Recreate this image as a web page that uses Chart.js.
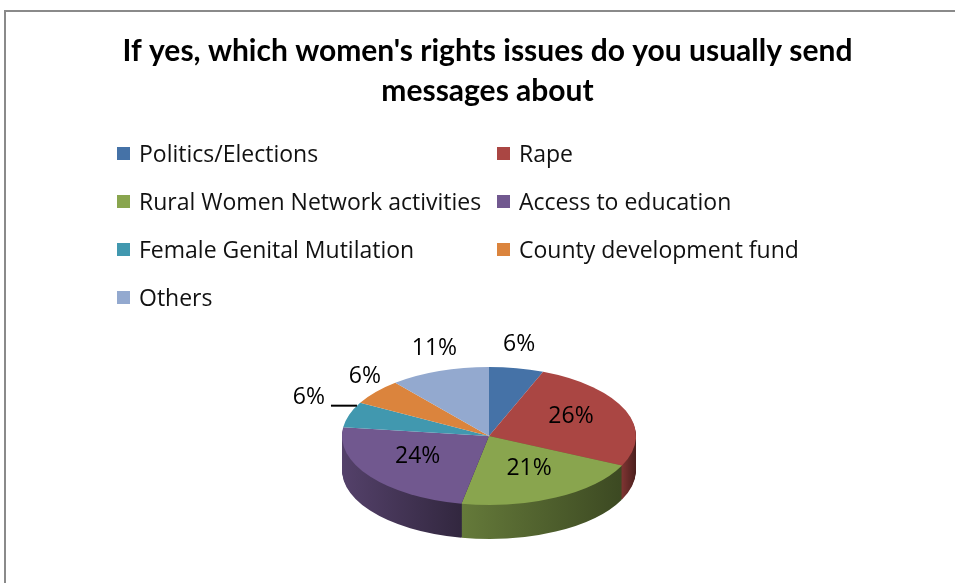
<!DOCTYPE html>
<html>
<head>
<meta charset="utf-8">
<title>Women's rights issues</title>
<script src="https://cdn.jsdelivr.net/npm/chart.js@4"></script>
<style>
  html, body { margin: 0; padding: 0; background: #fff; }
  #wrap { position: relative; width: 955px; height: 583px; overflow: hidden; background: #fff; }
  #frame { position: absolute; left: 4px; top: 10px; right: -10px; bottom: -10px;
           border-left: 2px solid #8a8a8a; border-top: 2px solid #8a8a8a; }
  #chart { position: absolute; left: 0; top: 0; }
  #legend { position: absolute; left: 0; top: 0; width: 955px; height: 583px;
            font-family: 'Open Sans', Lato, sans-serif; font-size: 23px; color: #111; pointer-events: none; }
  .item { position: absolute; display: flex; align-items: center; height: 28px; white-space: nowrap; }
  .box { width: 13px; height: 13px; margin-right: 9px; flex: none; }
</style>
</head>
<body>
<div id="wrap">
  <div id="frame"></div>
  <canvas id="chart" width="955" height="583"></canvas>
  <div id="legend"></div>
</div>
<script>
// ---- data ----
const categories = [
  'Politics/Elections',
  'Rape',
  'Rural Women Network activities',
  'Access to education',
  'Female Genital Mutilation',
  'County development fund',
  'Others'
];
const shares = [6, 26, 21, 24, 6, 6, 11];
const sliceColors = ['#4572A7', '#AA4643', '#89A54E', '#71588F', '#4198AF', '#DB843D', '#93A9CF'];
const titleLines = ["If yes, which women's rights issues do you usually send", 'messages about'];

// ---- look of the tilted pie ----
const PIE = { cx: 489, cy: 436, radius: 147, squash: 69 / 147, depth: 34 };
const LABEL_FONT = '23px "Open Sans", Lato, sans-serif';
const LEADER_SLICES = [4];   // slices whose label sits away from the pie on a leader line

function shade(hex, f) {
  const n = parseInt(hex.slice(1), 16);
  const r = Math.round(((n >> 16) & 255) * f);
  const g = Math.round(((n >> 8) & 255) * f);
  const b = Math.round((n & 255) * f);
  return `rgb(${r},${g},${b})`;
}

// maps the library's flat circle onto a tilted ellipse, dy pushes it down for the wall
function tilt(ctx, arc, dy) {
  ctx.translate(PIE.cx - arc.x, PIE.cy + dy);
  ctx.scale(1, PIE.squash);
  ctx.translate(0, -arc.y);
}

// horizontal span of the front (visible) wall of a slice, in the arc's own x space
function frontSpan(arc) {
  let lo = Infinity, hi = -Infinity;
  const steps = 60;
  for (let i = 0; i <= steps; i++) {
    const a = arc.startAngle + (arc.endAngle - arc.startAngle) * i / steps;
    if (Math.sin(a) >= 0) {
      const x = arc.x + arc.outerRadius * Math.cos(a);
      lo = Math.min(lo, x); hi = Math.max(hi, x);
    }
  }
  return lo <= hi ? [lo, hi] : null;
}

const pie3d = {
  id: 'pie3d',
  beforeDatasetsDraw(chart) {
    const ctx = chart.ctx;
    const arcs = chart.getDatasetMeta(0).data;
    if (!arcs.length) return;
    // side wall: the same arcs drawn again, stepped downward and shaded
    const walls = arcs.map((arc, i) => {
      const span = frontSpan(arc);
      if (!span) return null;
      const g = ctx.createLinearGradient(span[0], 0, Math.max(span[1], span[0] + 1), 0);
      const base = sliceColors[i];
      g.addColorStop(0, shade(base, 0.74));
      g.addColorStop(1, shade(base, 0.44));
      const wall = Object.create(arc);
      wall.options = Object.assign({}, arc.options, { backgroundColor: g, borderWidth: 0 });
      return wall;
    });
    for (let d = PIE.depth; d >= 1; d--) {
      ctx.save();
      tilt(ctx, arcs[0], d);
      walls.forEach(w => { if (w) w.draw(ctx); });
      ctx.restore();
    }
    ctx.save();
    tilt(ctx, arcs[0], 0);
  },
  afterDatasetsDraw(chart) {
    const ctx = chart.ctx;
    ctx.restore();
    const arcs = chart.getDatasetMeta(0).data;
    const values = chart.data.datasets[0].data;
    const total = values.reduce((s, v) => s + v, 0);
    const k = PIE.squash;
    ctx.save();
    ctx.font = LABEL_FONT;
    ctx.fillStyle = '#000';
    ctx.textAlign = 'center';
    ctx.textBaseline = 'middle';
    arcs.forEach((arc, i) => {
      const mid = (arc.startAngle + arc.endAngle) / 2;
      const c = Math.cos(mid), s = Math.sin(mid);
      const R = arc.outerRadius;
      const text = Math.round(values[i] / total * 100) + '%';
      const ex = PIE.cx + R * c, ey = PIE.cy + R * s * k;
      if (values[i] / total >= 0.15) {
        const f = 0.6;
        ctx.fillText(text, PIE.cx + f * R * c, PIE.cy - 4 + f * R * s * k);
      } else if (LEADER_SLICES.includes(i)) {
        const ly = ey - 9;
        const t = (ly - PIE.cy) / (R * k);
        const endX = PIE.cx - R * Math.sqrt(Math.max(0, 1 - t * t));
        const startX = endX - 26;
        ctx.save();
        ctx.strokeStyle = '#000';
        ctx.lineWidth = 2;
        ctx.beginPath();
        ctx.moveTo(startX, ly);
        ctx.lineTo(endX, ly);
        ctx.stroke();
        ctx.restore();
        ctx.fillText(text, startX - 22, ly - 8);
      } else {
        ctx.fillText(text, ex + c * 14, ey + s * 24);
      }
    });
    ctx.restore();
  }
};

function buildLegend() {
  const host = document.getElementById('legend');
  categories.forEach((name, i) => {
    const row = Math.floor(i / 2), col = i % 2;
    const el = document.createElement('div');
    el.className = 'item';
    el.style.left = (117 + col * 380) + 'px';
    el.style.top = (139 + row * 48) + 'px';
    const box = document.createElement('span');
    box.className = 'box';
    box.style.background = sliceColors[i];
    const label = document.createElement('span');
    label.textContent = name;
    el.appendChild(box);
    el.appendChild(label);
    host.appendChild(el);
  });
}

function draw() {
  buildLegend();
  new Chart(document.getElementById('chart'), {
    type: 'pie',
    data: {
      labels: categories,
      datasets: [{
        data: shares,
        backgroundColor: sliceColors,
        borderWidth: 0,
        radius: PIE.radius,
        clip: false
      }]
    },
    options: {
      responsive: false,
      devicePixelRatio: 1,
      animation: false,
      events: [],
      layout: { padding: { top: 11, left: 20, right: 0, bottom: 0 } },
      plugins: {
        legend: { display: false },
        tooltip: { enabled: false },
        title: {
          display: true,
          text: titleLines,
          color: '#000',
          font: { family: 'Lato, "Open Sans", sans-serif', size: 30, weight: 'bold', lineHeight: 40 / 30 },
          padding: { top: 20, bottom: 0 }
        }
      }
    },
    plugins: [pie3d]
  });
}

if (document.fonts && document.fonts.load) {
  Promise.all([
    document.fonts.load('23px "Open Sans"'),
    document.fonts.load('bold 30px Lato')
  ]).then(draw, draw);
} else {
  draw();
}
</script>
</body>
</html>
